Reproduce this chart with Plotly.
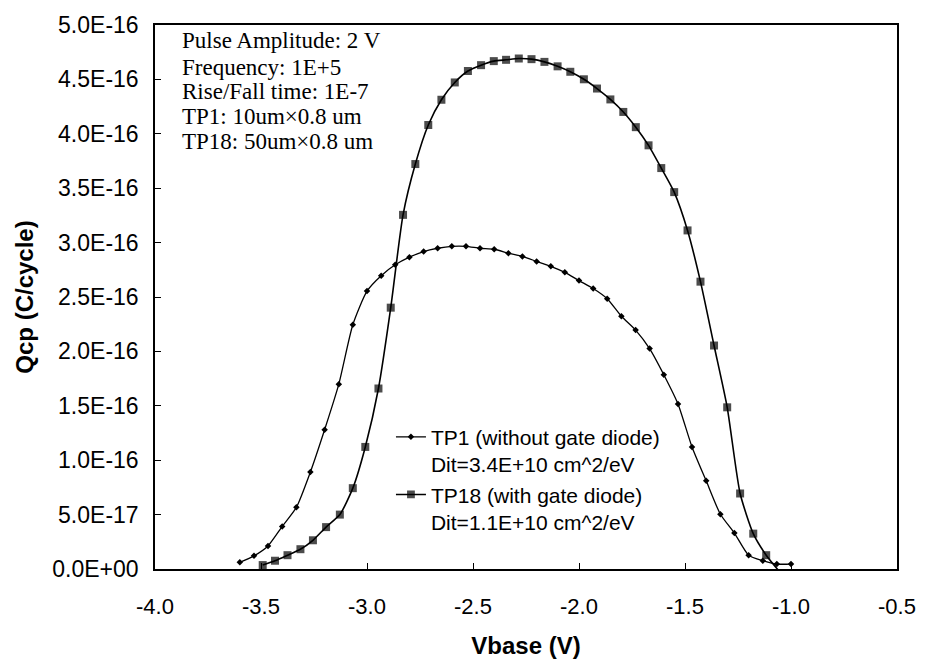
import plotly.graph_objects as go

# TP1 (without gate diode) - diamonds
tp1_v = [-3.600, -3.533, -3.467, -3.400, -3.333, -3.267, -3.200, -3.133, -3.067, -3.000,
         -2.933, -2.867, -2.800, -2.733, -2.667, -2.600, -2.533, -2.467, -2.400, -2.333,
         -2.267, -2.200, -2.133, -2.067, -2.000, -1.933, -1.867, -1.800, -1.733, -1.667,
         -1.600, -1.533, -1.467, -1.400, -1.333, -1.267, -1.200, -1.133, -1.067, -1.000]
tp1_q = [0.061, 0.121, 0.212, 0.391, 0.567, 0.892, 1.280, 1.699, 2.245, 2.554,
         2.696, 2.796, 2.866, 2.918, 2.948, 2.966, 2.966, 2.948, 2.939, 2.903,
         2.873, 2.827, 2.782, 2.727, 2.651, 2.578, 2.484, 2.323, 2.196, 2.026,
         1.786, 1.517, 1.122, 0.810, 0.503, 0.330, 0.127, 0.076, 0.045, 0.045]

# TP18 (with gate diode) - squares
tp18_v = [-3.492, -3.434, -3.375, -3.314, -3.255, -3.193, -3.128, -3.067, -3.008, -2.946,
          -2.888, -2.830, -2.772, -2.711, -2.649, -2.586, -2.524, -2.462, -2.402, -2.344,
          -2.284, -2.224, -2.163, -2.101, -2.041, -1.977, -1.915, -1.852, -1.791, -1.732,
          -1.672, -1.612, -1.551, -1.488, -1.427, -1.363, -1.301, -1.240, -1.178, -1.117,
          -1.057]
tp18_q = [0.036, 0.076, 0.127, 0.182, 0.264, 0.385, 0.500, 0.743, 1.122, 1.659,
          2.402, 3.255, 3.722, 4.081, 4.313, 4.472, 4.577, 4.631, 4.668, 4.680,
          4.692, 4.686, 4.661, 4.620, 4.570, 4.501, 4.416, 4.316, 4.201, 4.061,
          3.894, 3.685, 3.464, 3.112, 2.641, 2.054, 1.486, 0.694, 0.325, 0.127,
          -0.018]
SCALE = 1e-16

x_ticks = [-4.0, -3.5, -3.0, -2.5, -2.0, -1.5, -1.0, -0.5]
x_ticklabels = ["-4.0", "-3.5", "-3.0", "-2.5", "-2.0", "-1.5", "-1.0", "-0.5"]
y_ticks = [0, 0.5, 1.0, 1.5, 2.0, 2.5, 3.0, 3.5, 4.0, 4.5, 5.0]
y_ticklabels = ["0.0E+00", "5.0E-17", "1.0E-16", "1.5E-16", "2.0E-16", "2.5E-16",
                "3.0E-16", "3.5E-16", "4.0E-16", "4.5E-16", "5.0E-16"]

info_lines = ["Pulse Amplitude: 2 V", "Frequency: 1E+5", "Rise/Fall time: 1E-7",
              "TP1: 10um\u00d70.8 um", "TP18: 50um\u00d70.8 um"]

sans = "Liberation Sans, Arial, sans-serif"
serif = "Liberation Serif, Times New Roman, serif"

fig = go.Figure()
fig.add_trace(go.Scatter(
    x=tp1_v, y=[q * SCALE for q in tp1_q], mode="lines+markers",
    name="TP1 (without gate diode)<br>Dit=3.4E+10 cm^2/eV",
    line=dict(color="black", width=1.3, shape="spline", smoothing=0.6),
    marker=dict(symbol="diamond", size=5, color="black", line=dict(width=0)),
))
sq_sizes = [8] * (len(tp18_v) - 1) + [0]
fig.add_trace(go.Scatter(
    x=tp18_v, y=[q * SCALE for q in tp18_q], mode="lines+markers",
    name="TP18 (with gate diode)<br>Dit=1.1E+10 cm^2/eV",
    line=dict(color="black", width=1.6, shape="spline", smoothing=0.6),
    marker=dict(symbol="square", size=sq_sizes, color="black", line=dict(width=0)),
))

# info block, one annotation per line (line centres in paper coords)
info_y = [0.9715, 0.9224, 0.8770, 0.8315, 0.7861]
for txt, yy in zip(info_lines, info_y):
    fig.add_annotation(
        x=0.0336, y=yy, xref="paper", yref="paper", xanchor="left", yanchor="middle",
        text=txt, showarrow=False, align="left",
        font=dict(family=serif, size=23, color="black"),
    )

fig.update_layout(
    width=928, height=668,
    margin=dict(l=155, r=28, t=19, b=99),
    paper_bgcolor="white", plot_bgcolor="white",
    showlegend=True,
    legend=dict(x=0.318, y=0.28, xanchor="left", yanchor="top",
                bgcolor="rgba(0,0,0,0)", valign="top",
                font=dict(family=sans, size=21, color="black"),
                tracegroupgap=0, itemwidth=30),
    xaxis=dict(range=[-4, -0.5], tickvals=x_ticks, ticktext=x_ticklabels,
               ticks="inside", ticklen=6, tickcolor="black",
               showline=True, linecolor="black", linewidth=1.5, mirror=True,
               showgrid=False, zeroline=False, ticklabelstandoff=17,
               tickfont=dict(family=sans, size=22, color="black"),
               title=dict(text="<b>Vbase (V)</b>", font=dict(family=sans, size=24, color="black"),
                          standoff=19)),
    yaxis=dict(range=[0, 5e-16], tickvals=[t * SCALE for t in y_ticks], ticktext=y_ticklabels,
               ticks="inside", ticklen=6, tickcolor="black",
               showline=True, linecolor="black", linewidth=1.5, mirror=True,
               showgrid=False, zeroline=False, ticklabelstandoff=10,
               tickfont=dict(family=sans, size=23, color="black"),
               title=dict(text="<b>Qcp (C/cycle)</b>", font=dict(family=sans, size=24, color="black"),
                          standoff=12)),
)

fig.write_html("out.html")
